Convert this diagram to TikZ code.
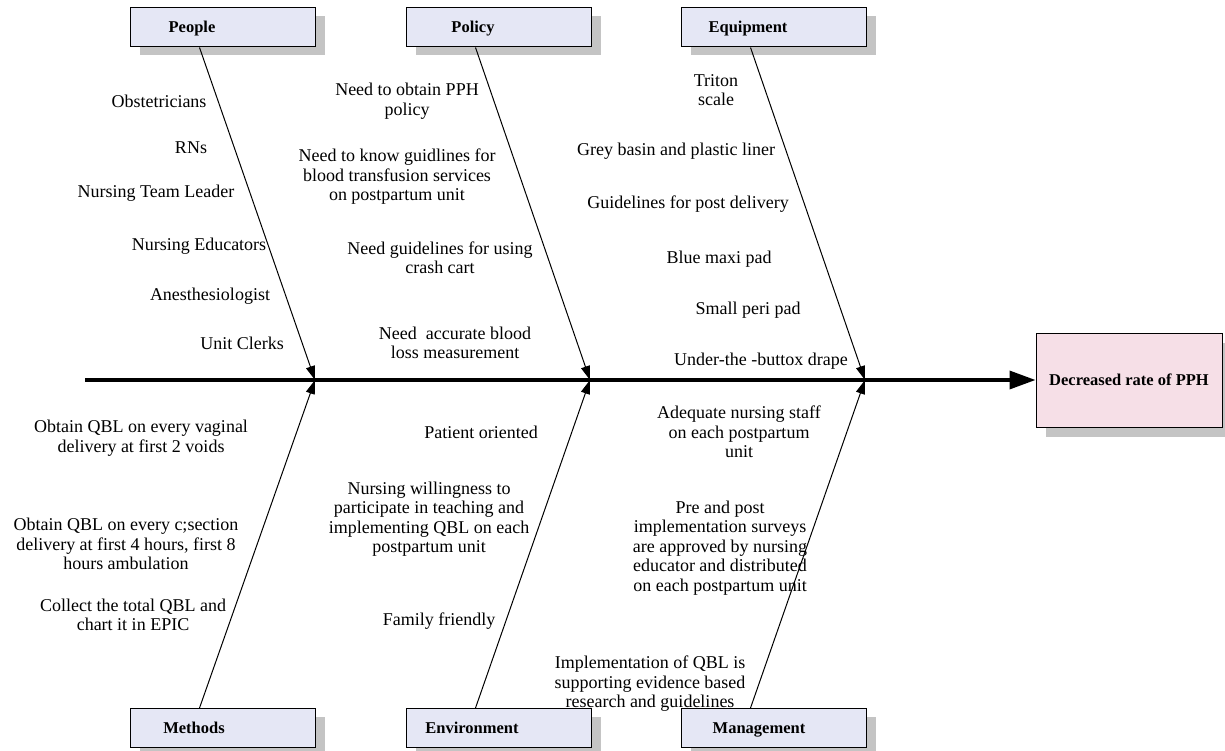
\documentclass[tikz,border=0pt]{standalone}
\usepackage{fontspec}
\setmainfont{Liberation Serif}
\usetikzlibrary{arrows.meta,shadows}

\definecolor{catfill}{RGB}{229,231,245}
\definecolor{headfill}{RGB}{246,223,231}
\definecolor{shade}{RGB}{196,196,196}

\def\txtsize{\fontsize{18}{19.5}\selectfont}
\def\lblsize{\fontsize{16.5}{19.5}\selectfont}
\def\catlist{{222.5/27.5/people/192/People}, {498.5/27.5/policy/473/Policy}, {773.5/27.5/equip/748/Equipment},
  {222.5/728/methods/194/Methods}, {498.5/728/environ/472/Environment}, {773.5/728/manage/759/Management}}
\def\causelist{{(159,101)/obst/{Obstetricians}}, {(191,148)/rns/{RNs}}, {(156,193)/ntl/{Nursing Team Leader}},
  {(199,246)/nedu/{Nursing Educators}}, {(210,296)/anest/{Anesthesiologist}}, {(242,343)/clerk/{Unit Clerks}},
  {(407,101)/pphpol/{Need to obtain PPH\\policy}},
  {(397,177)/transf/{Need to know guidlines for\\blood transfusion services\\on postpartum unit}},
  {(440,258)/crash/{Need guidelines for using\\crash cart}},
  {(455,343)/measure/{Need\ \ accurate blood\\loss measurement}},
  {(716,90)/triton/{Triton\\scale}}, {(676,151)/basin/{Grey basin and plastic liner}},
  {(688,204)/postdel/{Guidelines for post delivery}}, {(719,259)/maxi/{Blue maxi pad}},
  {(748,310)/peri/{Small peri pad}}, {(761,361)/drape/{Under-the -buttox drape}},
  {(141,438)/vaginal/{Obtain QBL on every vaginal\\delivery at first 2 voids}},
  {(126,544)/csect/{Obtain QBL on every c;section\\delivery at first 4 hours, first 8\\hours ambulation}},
  {(133,615)/epic/{Collect the total QBL and\\chart it in EPIC}},
  {(481,432)/patient/{Patient oriented}},
  {(429,519)/willing/{Nursing willingness to\\participate in teaching and\\implementing QBL on each\\postpartum unit}},
  {(439,621)/family/{Family friendly}},
  {(739,432)/staff/{Adequate nursing staff\\on each postpartum\\unit}},
  {(720,548)/survey/{Pre and post\\implementation surveys\\are approved by nursing\\educator and distributed\\on each postpartum unit}},
  {(650,684)/evidence/{Implementation of QBL is\\supporting evidence based\\research and guidelines}}}

\tikzstyle{catbox}=[draw, line width=1pt, fill=catfill, minimum width=185pt, minimum height=39pt, inner sep=0pt,
  general shadow={fill=shade, shadow xshift=10pt, shadow yshift=-8pt}]
\tikzstyle{headbox}=[draw, line width=1pt, fill=headfill, minimum width=186pt, minimum height=94pt, inner sep=0pt,
  font=\lblsize\bfseries, general shadow={fill=shade, shadow xshift=10pt, shadow yshift=-10pt}]
\tikzstyle{catlabel}=[font=\lblsize\bfseries, inner sep=0pt, text height=11pt, text depth=1pt]
\tikzstyle{cause}=[font=\txtsize, align=center, inner sep=0pt]
\tikzstyle{branch}=[draw, line width=1pt, -{Triangle[length=14pt,width=9pt]}]
\tikzstyle{spine}=[draw, line width=3.5pt, -{Triangle[length=26pt,width=18pt]}]

\begin{document}
\begin{tikzpicture}[x=1pt, y=-1pt]
  \useasboundingbox (0,0) rectangle (1225,751);

  % category boxes
  \foreach \cx/\cy/\name/\lx/\txt in \catlist {
    \node[catbox] (\name) at (\cx,\cy) {};
    \node[catlabel] (\name-lbl) at (\lx,\cy) {\txt};
  }
  \node[headbox] (head) at (1129,380) {Decreased rate of PPH};

  % spine
  \coordinate (tail) at (85,380);
  \coordinate (j1) at (315,380);
  \coordinate (j2) at (590,380);
  \coordinate (j3) at (865,380);
  \path[spine] (tail) -- (head.west);

  \foreach \top/\bot/\sink in {people/methods/j1, policy/environ/j2, equip/manage/j3} {
    \path[branch] ([xshift=-23pt]\top.south) -- (\sink);
    \path[branch] ([xshift=-23pt]\bot.north) -- (\sink);
  }

  % causes
  \foreach \pos/\name/\txt in \causelist {
    \node[cause] (\name) at \pos {\txt};
  }
\end{tikzpicture}
\end{document}
